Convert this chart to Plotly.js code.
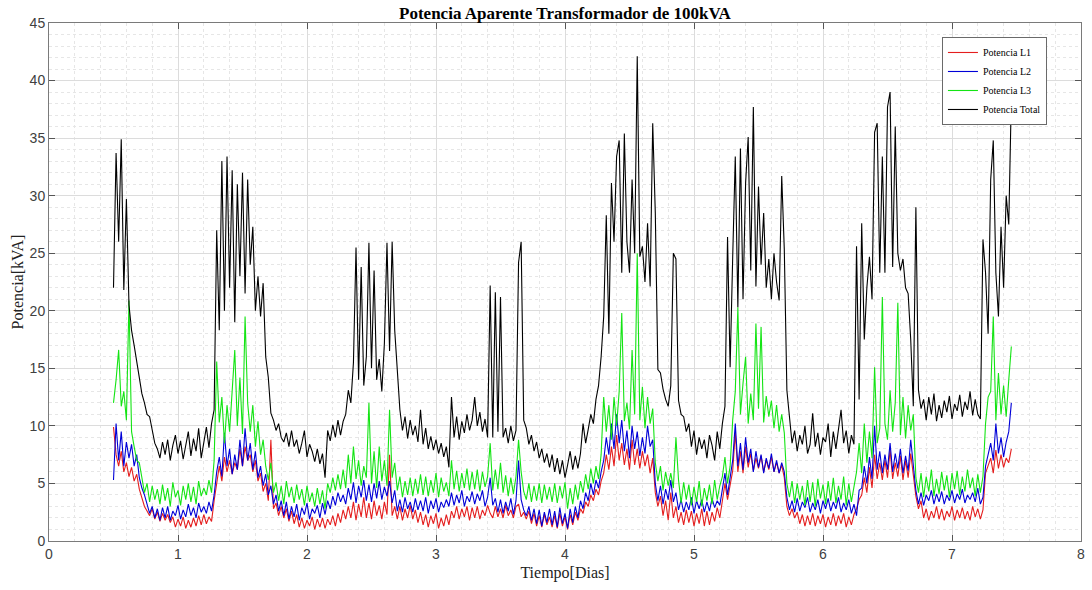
<!DOCTYPE html>
<html>
<head>
<meta charset="utf-8">
<script src="https://cdn.plot.ly/plotly-3.0.1.min.js"></script>
<style>html,body{margin:0;padding:0;background:#fff;}#chart{width:1092px;height:590px;}</style>
</head>
<body>
<div id="chart"></div>
<script>
// Sampling of the time axis (days)
const tStart = 0.50;
const tStep = 0.02;

const seriesNames = ["Potencia L1", "Potencia L2", "Potencia L3", "Potencia Total"];

// Potencia L1 [kVA]
const potL1 = [
 9.9, 7.5, 6.5, 7.8, 6, 6.8, 5.6, 6.4, 5.2, 5.8,
 4.5, 3.8, 3, 2.6, 2.2, 2.8, 1.9, 2.5, 1.7, 2.4,
 1.8, 2.3, 1.6, 2.1, 1.2, 1.9, 1.3, 2.1, 1.1, 1.8,
 1.2, 2, 1.3, 2.2, 1.4, 2.3, 1.5, 2.1, 1.7, 3.5,
 5, 6.5, 5.2, 7.3, 6, 7, 5.8, 6.8, 6.2, 8,
 6.5, 8.2, 7, 7.5, 6, 7, 5.2, 5.9, 4.3, 5,
 3.5, 8.8, 2.8, 3.3, 2.2, 3, 2, 2.8, 1.7, 2.6,
 1.5, 2.3, 1.2, 2, 1.1, 1.8, 1.3, 2.1, 1.0, 1.9,
 1.2, 2, 1.1, 1.9, 1.4, 2.2, 1.3, 2.4, 1.6, 2.7,
 1.9, 3, 2, 3.4, 1.8, 3.2, 2.1, 3.8, 2, 3.3,
 1.9, 3.5, 2.2, 3.1, 1.9, 3.4, 2.3, 7.5, 2.2, 3,
 1.9, 3, 1.8, 2.8, 2, 3.1, 1.9, 2.7, 1.6, 2.5,
 1.4, 2.3, 1.2, 2.2, 1.5, 2.4, 1.1, 2, 1.3, 2.3,
 1.4, 2.6, 2, 3, 1.9, 2.8, 2.1, 3, 1.8, 2.9,
 2, 3, 1.9, 2.7, 2.2, 3.1, 2.4, 2, 3, 2.1,
 2.8, 2, 3.1, 2.2, 2.7, 2, 3, 3.2, 2.1, 2.5,
 1.9, 2.6, 1.5, 2.4, 1.3, 2.2, 1.2, 2.3, 1.4, 2.1,
 1.2, 2.2, 1.1, 2.4, 1.3, 2.1, 1, 2.3, 1.4, 2.5,
 1.8, 2.8, 2.4, 3.4, 3, 4, 3.5, 4.5, 4, 5.2,
 5.9, 7.5, 6.2, 8.2, 6.5, 9.2, 7, 8.5, 6.6, 8,
 6.2, 8.8, 6.6, 8, 6.3, 7.8, 6.5, 7.5, 5.9, 7.2,
 4.2, 3, 3.9, 2.2, 3.5, 1.8, 4.2, 2, 3, 1.6,
 2.5, 1.4, 2.7, 1.6, 2.6, 1.3, 2.4, 1.5, 2.8, 1.3,
 2.6, 1.4, 2.5, 1.7, 2.9, 2, 3.5, 5, 3.6, 4.7,
 6.1, 9.4, 6, 7.8, 5.9, 8.2, 6.4, 7.6, 6.1, 7.2,
 6.3, 7.4, 6, 7, 6.2, 7.3, 6, 6.8, 5.9, 6.6,
 5.5, 3, 2.2, 2.8, 2, 2.5, 1.5, 2.3, 1.3, 2.2,
 1.4, 2.4, 1.3, 2.2, 1.5, 2.3, 1.2, 2.1, 1.4, 2.4,
 1.3, 2.2, 1.5, 2.4, 1.2, 2.1, 1.4, 2.3, 2.8, 3.6,
 4, 5.5, 4.2, 6.4, 4.6, 7.5, 5.4, 6.8, 5.3, 7,
 5.5, 7.9, 5.4, 6.8, 5.6, 7.4, 5.3, 7, 5.5, 7.6,
 5.8, 3.9, 2.8, 3.5, 2, 2.8, 1.8, 2.6, 2, 3,
 1.9, 2.8, 1.8, 2.6, 2.1, 3, 1.8, 2.7, 2, 2.9,
 1.9, 2.6, 1.8, 3, 2.1, 2.8, 1.9, 2.7, 5.9, 6.5,
 7.2, 5.9, 7.9, 6.3, 7.5, 6.4, 7.2, 6.8, 8
];

// Potencia L2 [kVA]
const potL2 = [
 5.3, 10.2, 7, 9.5, 6.5, 8.6, 7.2, 8.4, 6.5, 7.5,
 5.5, 4.6, 4, 3.2, 2.4, 3, 2, 2.8, 1.8, 2.9,
 2, 3, 1.8, 2.6, 2.2, 3.1, 1.9, 2.7, 2.1, 3.2,
 2.2, 2.9, 2, 3.3, 2.5, 3, 2.4, 3.4, 2.6, 4,
 6, 7.3, 5.6, 9.4, 6.5, 8, 5.8, 7.5, 6.2, 8.8,
 6.5, 9.8, 7, 8.5, 6.2, 7.8, 5.5, 6.5, 4.8, 5.8,
 4, 4.8, 3.2, 4, 2.6, 3.5, 2.2, 3.4, 1.9, 3,
 2.1, 3.2, 1.8, 2.9, 2.3, 3.3, 1.9, 2.8, 2.4, 3.1,
 2, 3.3, 2.3, 3.5, 2.8, 3.9, 3.1, 4.2, 3.4, 4,
 3.2, 4.6, 3.6, 5.1, 3.3, 4.8, 3.8, 5.3, 3.5, 4.9,
 3.4, 5, 3.7, 5.2, 3.6, 4.7, 3.9, 5.2, 3.3, 4.4,
 2.6, 3.6, 2.5, 3.8, 2.8, 3.4, 2.5, 3.7, 2.7, 3.5,
 2.6, 3.8, 2.4, 3.5, 2.8, 3.7, 2.5, 3.4, 2.9, 3.6,
 3, 4.2, 3.1, 4, 3.3, 4.4, 3, 3.9, 3.4, 4.3,
 3.2, 4.1, 3.5, 4.4, 3, 3.8, 5.5, 3.1, 3.7, 2.5,
 3.6, 2.4, 3.4, 2.6, 3.7, 2.3, 3.5, 7, 3.6, 2.7,
 2.2, 3, 1.8, 2.8, 1.5, 2.7, 1.3, 2.5, 1.6, 2.8,
 1.4, 2.6, 1.2, 2.9, 1.5, 2.4, 1.1, 2.8, 1.6, 3,
 2, 3.5, 2.8, 4.2, 3.5, 5, 4, 5.3, 4.6, 6,
 7, 9, 7.5, 10.2, 8, 11, 8.5, 10.5, 7.8, 9.6,
 7.2, 10, 8, 9.5, 7.4, 9, 7.6, 10, 8.2, 8.8,
 5, 3.5, 4.8, 3.2, 4.5, 3.6, 5.3, 3.4, 4.2, 2.7,
 3.6, 2.5, 3.4, 2.7, 3.8, 2.4, 3.5, 2.8, 3.6, 2.5,
 3.4, 2.6, 3.7, 2.9, 3.5, 3.1, 4.5, 5.9, 4, 5.5,
 7, 10.2, 6.5, 8.5, 6.2, 9, 6.8, 8, 6, 7.8,
 6.4, 7.5, 5.9, 7.2, 6.3, 7.6, 6, 7, 5.9, 6.8,
 6, 3.8, 2.7, 3.5, 2.5, 3.7, 2.6, 3.4, 2.9, 3.8,
 2.5, 3.3, 2.7, 3.6, 2.4, 3.5, 2.8, 3.7, 2.6, 3.4,
 2.8, 3.8, 2.5, 3.3, 2.7, 3.6, 2.4, 3.2, 2.2, 4.4,
 4.6, 6.5, 5, 7.3, 5.4, 10, 6.2, 7.8, 5.9, 7.5,
 6.2, 8.5, 6, 7.6, 6.3, 8, 5.9, 7.4, 6.1, 8.8,
 6.5, 4.4, 3.2, 4.2, 3.1, 4, 3.5, 4.4, 3.2, 4.1,
 3.4, 4.3, 3.2, 4, 3.5, 4.4, 3.3, 4.1, 3.6, 4.5,
 3.3, 4, 3.6, 4.2, 3.4, 4.6, 3.2, 3.8, 6.5, 7.5,
 8.5, 7, 10.2, 7.6, 9, 7.3, 8.6, 9.5, 12
];

// Potencia L3 [kVA]
const potL3 = [
 12, 14, 16.6, 11.7, 13, 10.5, 20.9, 9.5, 8.2, 7,
 6.8, 5.3, 4.2, 5, 3.4, 4.8, 3.6, 4.5, 3.2, 4.9,
 3.5, 4.6, 3, 5.1, 3.8, 4.4, 3.1, 4.8, 3.6, 5,
 3.4, 4.7, 3.2, 5.2, 3.9, 4.6, 4, 5.3, 4.2, 7,
 15.6, 10.3, 12.5, 8.5, 11.8, 9.5, 13, 16.6, 10, 14.2,
 9.3, 19.5, 12, 9.5, 11.8, 8.2, 10.4, 7.5, 8.8, 6.5,
 5.3, 6.8, 4.2, 5.1, 3.5, 4.8, 3.2, 5.2, 3.8, 4.7,
 3.3, 4.9, 3.6, 4.5, 3.1, 4.8, 3.4, 4.2, 3, 4.6,
 3.2, 4.4, 2.8, 5, 4.2, 5.5, 4.4, 5.8, 4.5, 6.2,
 4.6, 7.5, 5, 8.2, 5.4, 7, 4.8, 6.5, 5.5, 12,
 5, 7.8, 4.6, 8.2, 5.2, 7, 4.8, 11.4, 5.5, 6.8,
 4.4, 5.6, 3.8, 5.2, 4, 5.5, 3.9, 5.4, 4.1, 5.8,
 4, 5.6, 3.9, 5.3, 4.2, 5.9, 3.8, 5.5, 4.3, 5.1,
 3.9, 7, 4.5, 6.1, 4.3, 5.9, 4.6, 6.3, 4.4, 6,
 4.5, 6.2, 4.3, 6, 4.7, 5.6, 8.5, 4.4, 6.2, 4.5,
 6.8, 4.2, 5.7, 3.9, 5.5, 4.1, 5.6, 8.8, 6, 4.3,
 3.6, 5, 3.4, 4.8, 3.5, 5, 3.3, 4.9, 3.6, 4.7,
 3.4, 5, 3.3, 4.8, 3.7, 5.1, 2.8, 4.6, 3.2, 4.9,
 3.6, 5.2, 4.2, 5.8, 4.5, 6.3, 5, 6.5, 5.4, 7.5,
 12.5, 9.5, 11.8, 8.8, 12.5, 10, 13, 19.8, 10.4, 12,
 9.7, 16.6, 11, 25, 10.5, 13.4, 9.8, 12.5, 10.2, 11.5,
 6.8, 5.2, 6.5, 4.4, 6, 4.8, 5.9, 4.6, 9, 5.3,
 3.3, 5.1, 3.6, 4.9, 3.1, 4.7, 3.4, 5.2, 3, 4.6,
 3.5, 4.9, 3.2, 5.3, 3.6, 4.8, 5.6, 7.3, 5, 6.5,
 10.5, 13, 20.3, 11, 13.7, 16, 10.2, 12.8, 10.5, 18.9,
 11.5, 18.6, 10.3, 12.6, 10.8, 12.2, 9.8, 11.8, 9.5, 11,
 9.4, 5, 3.8, 5.2, 3.3, 5, 3.6, 4.8, 3.1, 5.3,
 3.4, 5.1, 3, 5.4, 3.7, 4.9, 3.2, 5.2, 3.5, 5.5,
 3.3, 4.8, 3.6, 5.6, 3.1, 5, 3.4, 4.6, 6, 8.5,
 5.9, 10.2, 6.8, 9.5, 7.2, 15.1, 8.5, 9.8, 21.2, 10.2,
 8.8, 13.1, 9.5, 12, 20.7, 9.2, 12.5, 8.9, 11.8, 9.6,
 11, 5.5, 4.2, 5.9, 3.8, 5.6, 4.3, 6.2, 3.9, 5.4,
 4.1, 6, 4.4, 5.7, 3.8, 5.9, 4.5, 6.1, 4, 5.6,
 4.3, 6.2, 4.6, 5.5, 3.9, 5.8, 4.2, 5.6, 10.2, 12.5,
 13, 19.5, 10.5, 14.6, 11, 13.5, 10.8, 14, 16.9
];

// Potencia Total [kVA]
const potTotal = [
 22, 33.7, 26, 34.9, 21.8, 29.7, 20.5, 18.3, 17, 15.5,
 14.2, 12.8, 12, 11, 10.8, 9.5, 8.5, 8, 7.2, 8.6,
 7.5, 8.8, 7, 8.3, 9.2, 7.6, 8.7, 7.1, 8.4, 9.5,
 7.4, 8.9, 7.8, 9.8, 7.2, 8.6, 9.9, 8.1, 10.2, 11.4,
 27, 18.3, 33, 20, 33.4, 22, 32.2, 19, 31, 23,
 32, 21.5, 31.4, 24, 27.3, 20, 23, 19.5, 22.4, 16,
 14.2, 11.1, 10.5, 9.6, 10.2, 9, 8.6, 9.4, 8.2, 9.6,
 8.2, 8.8, 7.6, 8.5, 9.6, 7.3, 8.4, 7.8, 6.9, 8,
 6.7, 7.6, 5.5, 9.6, 8.7, 10.1, 9, 10.5, 9.2, 10.4,
 11, 13.1, 12, 15.5, 25.5, 14, 23.8, 13.5, 16, 25.9,
 15, 23.5, 14, 15.8, 13, 17.2, 25.9, 16.5, 26, 18.3,
 15.2, 11.4, 9.6, 10.8, 8.9, 10.5, 9.2, 10, 8.6, 11.4,
 8.4, 9.8, 8, 9.1, 7.9, 8.8, 7.6, 8.5, 7.3, 8.2,
 6.4, 12.5, 9, 10.8, 8.8, 10.4, 9.4, 11, 9.6, 10.5,
 12.5, 10, 11.2, 9.5, 10.6, 9, 22.2, 9, 21.6, 9.5,
 21.2, 9, 9.8, 8.5, 10, 8.7, 9.6, 24.2, 26, 10.5,
 9.8, 8.4, 9.2, 7.8, 8.6, 7.2, 8, 6.8, 7.6, 6.4,
 7.5, 6, 7.2, 5.8, 7, 5.5, 6.6, 7.8, 6.2, 7.4,
 6.3, 7.6, 10.2, 8.5, 9.7, 11, 10.2, 12.3, 13.5, 16,
 19.5, 28.3, 18, 31.1, 26, 33.4, 34.8, 23.3, 35.4, 26,
 23.3, 31.4, 25, 42.1, 24.7, 25.6, 22.5, 27.6, 22.1, 36.3,
 28.5, 14.9, 14.6, 13.2, 12.3, 11.7, 13.5, 25, 24.5, 12.2,
 11, 10.8, 9.5, 10.2, 8.2, 9.6, 7.5, 9, 8, 8.8,
 7.2, 9.2, 8.3, 7, 9.5, 8, 10.2, 11.7, 26.4, 15.1,
 24.7, 33.4, 20.3, 34.1, 21, 31.1, 35.1, 23.5, 37.7, 22.1,
 30.8, 24, 28.5, 22, 24.5, 21, 25, 22.5, 20.9, 31.7,
 25.3, 13.1, 10.8, 8.5, 9.6, 7.8, 9.2, 8.4, 10, 7.6,
 8.4, 11.1, 8.2, 9.4, 7.5, 9, 8.6, 10.2, 7.3, 9.5,
 8, 9.7, 11.4, 8.5, 9.6, 7.6, 9.2, 8.4, 25.6, 12.3,
 27.6, 17.5, 22, 24.7, 21, 35.5, 36.3, 23.3, 33.4, 23.3,
 37.7, 39, 23.8, 36, 25, 23.5, 24.5, 22, 21.5, 17.5,
 11.7, 29, 13.1, 11.5, 12.3, 10.5, 12.5, 11, 12.8, 10.4,
 11.8, 10.7, 12.2, 11.2, 12.6, 10.6, 11.9, 11.3, 12.7, 10.8,
 12.1, 11.4, 13, 10.9, 12.3, 11, 10.6, 26.2, 23.3, 18,
 31.4, 34.8, 23.3, 19.5, 27.3, 22, 30, 27.5, 38.6
];

const tDays = potTotal.map((_, i) => +(tStart + i * tStep).toFixed(3));

const colors = ["rgb(228,30,30)", "rgb(0,0,215)", "rgb(20,228,20)", "rgb(0,0,0)"];
const allSeries = [potL1, potL2, potL3, potTotal];

const traces = allSeries.map((ys, k) => ({
  type: "scatter",
  mode: "lines",
  x: tDays,
  y: ys,
  name: seriesNames[k],
  line: {color: colors[k], width: 1.1}
}));

const serif = "'Liberation Serif', 'Times New Roman', serif";
const sans = "'Liberation Sans', Arial, sans-serif";

const axisCommon = {
  showline: true,
  linecolor: "#7a7a7a",
  linewidth: 1,
  mirror: "ticks",
  ticks: "inside",
  ticklen: 6,
  tickcolor: "#555",
  tickfont: {family: sans, size: 14, color: "#404040"},
  showgrid: true,
  gridcolor: "#dcdcdc",
  gridwidth: 1,
  zeroline: false,
  layer: "below traces"
};

const layout = {
  width: 1092,
  height: 590,
  margin: {l: 49, r: 11, t: 23, b: 49},
  paper_bgcolor: "#ffffff",
  plot_bgcolor: "#ffffff",
  title: {
    text: "<b>Potencia Aparente Transformador de 100kVA</b>",
    font: {family: serif, size: 17, color: "#000"},
    x: 0.5, xref: "paper", xanchor: "center",
    y: 0.978, yref: "container", yanchor: "middle"
  },
  xaxis: Object.assign({}, axisCommon, {
    range: [0, 8],
    dtick: 1,
    tick0: 0,
    minor: {dtick: 0.2, showgrid: true, gridcolor: "#e6e6e6", griddash: "dot", gridwidth: 1, ticks: ""},
    title: {text: "Tiempo[Dias]", font: {family: serif, size: 16, color: "#222"}, standoff: 6}
  }),
  yaxis: Object.assign({}, axisCommon, {
    range: [0, 45],
    dtick: 5,
    tick0: 0,
    minor: {dtick: 1, showgrid: true, gridcolor: "#e6e6e6", griddash: "dot", gridwidth: 1, ticks: ""},
    title: {text: "Potencia[kVA]", font: {family: serif, size: 16, color: "#222"}, standoff: 2}
  }),
  showlegend: true,
  legend: {
    x: 0.967, xanchor: "right", xref: "paper",
    y: 0.973, yanchor: "top", yref: "paper",
    bgcolor: "#ffffff",
    bordercolor: "#6a6a6a",
    borderwidth: 1,
    font: {family: serif, size: 10, color: "#000"},
    tracegroupgap: 0,
    itemwidth: 30
  }
};

Plotly.newPlot("chart", traces, layout, {displayModeBar: false, staticPlot: true});
</script>
</body>
</html>
